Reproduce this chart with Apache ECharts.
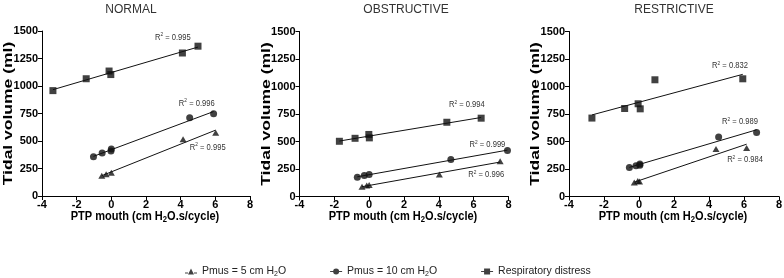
<!DOCTYPE html>
<html>
<head>
<meta charset="utf-8">
<script src="https://cdn.jsdelivr.net/npm/echarts@6/dist/echarts.min.js"></script>
<style>
html, body { margin: 0; padding: 0; background: #fff; }
#main { width: 784px; height: 278px; }
</style>
</head>
<body>
<div id="main"></div>
<script>
var panelTitles = ['NORMAL', 'OBSTRUCTIVE', 'RESTRICTIVE'];
var seriesNames = ['Pmus = 5 cm H2O', 'Pmus = 10 cm H2O', 'Respiratory distress'];
var xTicks = [-4, -2, 0, 2, 4, 6, 8];
var yTicks = [0, 250, 500, 750, 1000, 1250, 1500];
var xTitle = 'PTP mouth (cm H2O.s/cycle)';
var yTitle = 'Tidal volume (ml)';

// [PTP mouth, tidal volume]
var normalPmus5 = [[-0.55, 185], [-0.3, 197], [0, 212], [4.14, 515], [6.02, 575]];
var normalPmus10 = [[-1.03, 357], [-0.53, 391], [-0.02, 410], [0, 428], [4.52, 712], [5.9, 748]];
var normalDistress = [[-3.37, 958], [-1.45, 1066], [-0.13, 1136], [-0.03, 1104], [4.1, 1300], [5.0, 1362]];

var obstrPmus5 = [[-0.41, 88], [-0.14, 100], [0, 105], [4.03, 200], [7.52, 321]];
var obstrPmus10 = [[-0.68, 175], [-0.28, 191], [0, 200], [4.69, 336], [7.94, 418]];
var obstrDistress = [[-1.71, 502], [-0.81, 529], [-0.02, 564], [0.01, 533], [4.46, 675], [6.43, 712]];

var restrPmus5 = [[-0.27, 127], [-0.07, 140], [0.03, 137], [4.4, 431], [6.15, 440]];
var restrPmus10 = [[-0.55, 264], [-0.17, 279], [0.05, 283], [0.05, 296], [4.55, 540], [6.72, 582]];
var restrDistress = [[-2.69, 713], [-0.82, 800], [-0.05, 843], [0.07, 797], [0.91, 1061], [5.93, 1070]];

// R squared of each fit, order: Pmus 5, Pmus 10, distress
var normalR2 = ['0.995', '0.996', '0.995'];
var obstrR2 = ['0.996', '0.999', '0.994'];
var restrR2 = ['0.984', '0.989', '0.832'];

var panelData = [
    [normalPmus5, normalPmus10, normalDistress],
    [obstrPmus5, obstrPmus10, obstrDistress],
    [restrPmus5, restrPmus10, restrDistress]
];
var panelR2 = [normalR2, obstrR2, restrR2];

// layout
var grids = [
    { left: 42, top: 31, width: 208, height: 165 },
    { left: 299.5, top: 31.5, width: 209, height: 165 },
    { left: 569, top: 31.5, width: 210, height: 165 }
];
var titleX = [131, 406, 674];
// where the R2 text sits, in data units
var r2Pos = [
    [[5.56, 445], [4.93, 845], [3.55, 1445]],
    [[6.72, 200], [6.79, 473], [5.61, 836]],
    [[6.06, 334], [5.77, 682], [5.2, 1188]]
];

var symbols = ['triangle', 'circle', 'rect'];
var symbolSizes = [[7, 6], 7, 7];
var legendIcons = [
    'path://M0,5H3V6H0Z M3,7L6,1L9,7Z M9,5H12V6H9Z',
    'path://M0,3.5H3.2V4.5H0Z M3,4A3,3 0 1,1 9,4A3,3 0 1,1 3,4Z M8.8,3.5H12V4.5H8.8Z',
    'path://M0,3.5H3V4.5H0Z M3,1H9V7H3Z M9,3.5H12V4.5H9Z'
];
var font = 'Liberation Sans';
var ink = '#111';

function fitLine(pts) {
    var n = pts.length, sx = 0, sy = 0, sxx = 0, sxy = 0;
    var lo = Infinity, hi = -Infinity;
    pts.forEach(function (p) {
        sx += p[0]; sy += p[1]; sxx += p[0] * p[0]; sxy += p[0] * p[1];
        lo = Math.min(lo, p[0]); hi = Math.max(hi, p[0]);
    });
    var b = (n * sxy - sx * sy) / (n * sxx - sx * sx);
    var a = (sy - b * sx) / n;
    return [[lo, a + b * lo], [hi, a + b * hi]];
}

function subRich(s) {
    return s.replace(/H2O/, 'H}{s|2}{a|O').replace(/^/, '{a|') + '}';
}

var chart = echarts.init(document.getElementById('main'));

var xAxes = [], yAxes = [], series = [];
grids.forEach(function (g, i) {
    xAxes.push({
        gridIndex: i, type: 'value',
        min: xTicks[0], max: xTicks[xTicks.length - 1], interval: xTicks[1] - xTicks[0],
        axisLine: { show: true, onZero: false, lineStyle: { color: '#000', width: 1 } },
        axisTick: { show: true, length: 4, lineStyle: { color: '#000', width: 1 } },
        axisLabel: { color: '#000', fontWeight: 'bold', fontSize: 11, fontFamily: font, margin: 3,
            formatter: function (v) { return String(v); } },
        splitLine: { show: false }
    });
    yAxes.push({
        gridIndex: i, type: 'value',
        min: yTicks[0], max: yTicks[yTicks.length - 1], interval: yTicks[1] - yTicks[0],
        axisLine: { show: true, onZero: false, lineStyle: { color: '#000', width: 1 } },
        axisTick: { show: true, length: 4, lineStyle: { color: '#000', width: 1 } },
        axisLabel: { color: '#000', fontWeight: 'bold', fontSize: 11, fontFamily: font, margin: 4,
            formatter: function (v) { return String(v); } },
        splitLine: { show: false }
    });
    panelData[i].forEach(function (pts, k) {
        series.push({
            name: seriesNames[k], type: 'scatter',
            xAxisIndex: i, yAxisIndex: i,
            symbol: symbols[k], symbolSize: symbolSizes[k],
            itemStyle: { color: ink },
            data: pts, z: 3
        });
        series.push({
            name: 'fit', type: 'line',
            xAxisIndex: i, yAxisIndex: i,
            symbol: 'none', silent: true,
            lineStyle: { color: ink, width: 1 },
            data: fitLine(pts), z: 2
        });
    });
});

var option = {
    animation: false,
    grid: grids.map(function (g) {
        return { left: g.left, top: g.top, width: g.width, height: g.height, containLabel: false, outerBoundsMode: 'none' };
    }),
    xAxis: xAxes,
    yAxis: yAxes,
    legend: {
        left: 180, top: 261,
        itemGap: 44, itemWidth: 12, itemHeight: 7,
        selectedMode: false,
        data: seriesNames.map(function (n, k) { return { name: n, icon: legendIcons[k], itemStyle: { color: ink } }; }),
        formatter: function (name) { return subRich(name); },
        textStyle: {
            rich: {
                a: { fontSize: 10.5, color: '#222', fontFamily: font },
                s: { fontSize: 7, color: '#222', fontFamily: font, padding: [6, 0, 0, 0] }
            }
        }
    },
    series: series
};
chart.setOption(option);

var graphics = [];
grids.forEach(function (g, i) {
    var cx = g.left + g.width / 2;
    graphics.push({
        type: 'text', x: titleX[i], y: 10,
        style: { text: panelTitles[i], fontSize: 12, fontFamily: font, fill: '#333', align: 'center', verticalAlign: 'middle' }
    });
    graphics.push({
        type: 'text', x: g.left - 33, y: g.top + g.height / 2,
        rotation: Math.PI / 2, scaleX: 1.25, scaleY: 0.85,
        style: { text: yTitle, fontSize: 14, fontWeight: 'bold', fontFamily: font, fill: '#000', align: 'center', verticalAlign: 'middle' }
    });
    graphics.push({
        type: 'text', x: cx - 1, y: 216,
        scaleX: 0.85, scaleY: 1.05,
        style: {
            text: subRich(xTitle), fill: '#000', align: 'center', verticalAlign: 'middle',
            rich: {
                a: { fontSize: 13, fontWeight: 'bold', fontFamily: font, fill: '#000' },
                s: { fontSize: 9, fontWeight: 'bold', fontFamily: font, fill: '#000', padding: [7, 0, 0, 0] }
            }
        }
    });
    panelR2[i].forEach(function (v, k) {
        var p = chart.convertToPixel({ gridIndex: i }, r2Pos[i][k]);
        graphics.push({
            type: 'text', x: p[0], y: p[1], scaleX: 0.8,
            style: {
                text: '{a|R}{p|2}{a| = ' + v + '}', align: 'center', verticalAlign: 'middle',
                rich: {
                    a: { fontSize: 9.5, fontFamily: font, fill: '#333' },
                    p: { fontSize: 6, fontFamily: font, fill: '#333', padding: [0, 0, 5, 0] }
                }
            }
        });
    });
});
chart.setOption({ graphic: graphics });

window.addEventListener('resize', function () {
    chart.resize();
});
</script>
</body>
</html>
